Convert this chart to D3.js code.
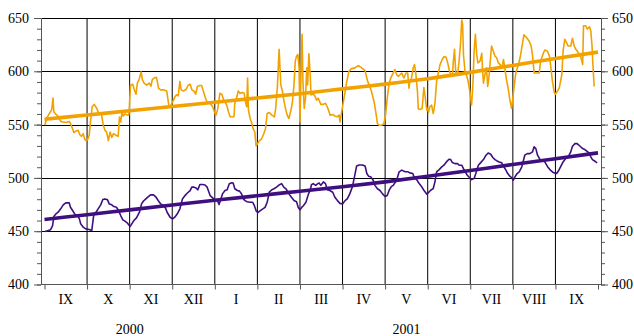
<!DOCTYPE html>
<html>
<head>
<meta charset="utf-8">
<script src="https://cdn.jsdelivr.net/npm/d3@7"></script>
<style>
  html, body { margin: 0; padding: 0; background: #fff; }
  svg { display: block; }
  text { font-family: "Liberation Serif", "Times New Roman", serif; font-size: 14px; fill: #000; }
</style>
</head>
<body>
<svg id="chart" width="634" height="336"></svg>
<script>
// Month labels (Sep 2000 .. Sep 2001) and year captions
const months = ["IX", "X", "XI", "XII", "I", "II", "III", "IV", "V", "VI", "VII", "VIII", "IX"];
const years = [{ label: "2000", from: 0, to: 4 }, { label: "2001", from: 4, to: 13 }];
const yMajor = [400, 450, 500, 550, 600, 650];

// Position is expressed in months since 1 Sep 2000 (each month has equal width)
const upperSeries = [
  [0.01,549.5],[0.05,556],[0.11,560],[0.17,564],[0.20,575],[0.22,562],[0.27,559.5],[0.32,558],[0.38,553],[0.44,552.5],
  [0.52,552],[0.58,553],[0.61,551],[0.66,546],[0.69,542.4],[0.74,544],[0.79,544.6],[0.83,540.5],[0.87,539],[0.91,541.5],
  [0.94,536.7],[0.97,535],[1.01,535.7],[1.05,540],[1.08,552.5],[1.12,566.8],[1.17,569],[1.23,565],[1.26,562],[1.30,560],
  [1.34,559],[1.38,549.4],[1.42,544.6],[1.46,543],[1.50,535],[1.54,543],[1.58,538],[1.62,541.5],[1.68,540],[1.73,539],
  [1.76,557],[1.79,552.5],[1.82,562],[1.85,558],[1.89,560],[1.95,558.9],[1.98,558.9],[1.99,565],[2.02,586.7],[2.07,588],
  [2.11,582.6],[2.15,578.5],[2.18,589],[2.22,592],[2.27,599.4],[2.30,592],[2.34,589],[2.40,587],[2.46,589],[2.50,586],
  [2.53,592],[2.57,593.7],[2.63,594.3],[2.68,584],[2.73,582.6],[2.79,582.6],[2.87,581.6],[2.92,568],[2.95,566.8],[2.99,570],
  [3.03,573],[3.06,576],[3.10,578],[3.14,577],[3.18,590.5],[3.21,582.6],[3.26,581.6],[3.32,582.6],[3.37,586.7],[3.42,588],
  [3.46,582.6],[3.51,581.6],[3.55,578.5],[3.59,585.8],[3.64,586.7],[3.69,586.7],[3.73,581.6],[3.78,575],[3.82,571],[3.89,570],
  [3.95,566.8],[3.99,562],[4.03,559],[4.07,565],[4.12,579.4],[4.17,578],[4.22,571.5],
  [4.24,570.9],[4.28,568.4],[4.32,562],[4.36,557.3],[4.40,557.3],[4.45,557.3],[4.47,570],[4.51,574.7],[4.55,581.6],[4.59,579.4],
  [4.65,580],[4.69,579.4],[4.72,571.5],[4.75,566.8],[4.77,593.7],[4.79,563.6],[4.83,555.7],[4.87,551],[4.90,546.2],[4.94,543],
  [4.97,530],[5.00,532],[5.05,535],[5.10,536.7],[5.15,541.4],[5.19,546.2],[5.23,560.4],[5.28,561.4],[5.34,558.9],[5.40,557.3],
  [5.43,565.2],[5.47,585.8],[5.51,620.6],[5.55,587.3],[5.59,581],[5.62,573],[5.66,565.2],[5.70,558.9],[5.74,555.7],[5.78,562],
  [5.82,570],[5.86,587.3],[5.89,609.5],[5.92,614.2],[5.95,615.8],[5.98,603.2],[6.00,552.5],[6.02,590.5],[6.05,634.8],[6.07,590.5],
  [6.10,565.2],[6.13,574.7],[6.16,603.2],[6.18,587.3],[6.21,616.5],[6.24,596.8],[6.26,577.8],[6.29,578.5],[6.34,577.8],[6.39,573],
  [6.43,574.7],[6.49,569],[6.55,569],[6.60,570],[6.65,565.8],[6.71,558.9],[6.78,559.5],[6.82,558],[6.88,557.3],[6.92,558.9],
  [6.94,552.5],[6.96,557.3],[6.98,562],[7.02,571.5],[7.06,581],[7.10,590.5],[7.15,600],[7.21,602.5],[7.29,603.2],[7.37,605.4],
  [7.45,603.2],[7.53,600.6],[7.59,590.5],[7.64,585.8],[7.68,581],[7.74,571.5],[7.78,562],[7.82,551],[7.86,549.4],[7.92,549.4],
  [7.97,551],[8.01,558.9],[8.05,574.7],[8.09,587.3],[8.13,593.7],[8.18,597.5],[8.23,601.6],[8.27,596.8],[8.31,595.3],[8.35,596.8],
  [8.39,598.4],[8.44,593.7],[8.49,598.4],[8.53,598.4],[8.56,584.2],
  [8.58,590.5],[8.62,593.7],[8.66,603.2],[8.69,606.3],[8.72,598.4],[8.76,581],[8.78,564.6],[8.82,564.2],[8.87,565.2],[8.91,584.8],
  [8.94,576.3],[8.98,563.6],[9.00,565.2],[9.02,561.4],[9.05,566.8],[9.09,568.4],[9.13,560.4],[9.17,570],[9.21,590.5],[9.25,598.4],
  [9.29,606.3],[9.34,611.1],[9.38,613.6],[9.43,613.3],[9.47,607.9],[9.51,600.6],[9.54,596.8],[9.58,595.3],[9.60,607.9],[9.63,620.6],
  [9.66,598.4],[9.70,596.8],[9.73,606.3],[9.77,625.3],[9.80,648.1],[9.82,644.3],[9.84,615.8],[9.88,598.4],[9.91,596.8],[9.95,590.5],
  [9.99,581],[10.03,568.4],[10.06,585.8],[10.09,619],[10.12,634.8],[10.15,615.8],[10.18,607.9],[10.23,609.5],[10.27,616.8],[10.29,600],
  [10.31,588.9],[10.35,598.4],[10.38,603.2],[10.41,585.8],[10.44,595.3],[10.48,614.2],[10.50,623.7],[10.54,619],[10.58,614.2],[10.62,612.7],
  [10.66,607.9],[10.70,606.3],[10.74,603.2],[10.78,611.1],[10.81,603.2],[10.85,592.1],[10.89,584.2],[10.93,573.1],[10.97,565.2],[10.99,571.5],
  [11.03,585.8],[11.07,598.4],[11.13,606.3],[11.17,612.7],[11.21,622.2],[11.26,634.2],[11.32,631.7],[11.38,628.5],[11.43,623.7],[11.46,615.8],
  [11.50,598.4],[11.56,598.4],[11.62,598.4],[11.65,609.5],[11.68,612.7],[11.72,617.4],[11.75,619.9],[11.81,619],[11.86,614.2],[11.89,604.7],
  [11.93,590.5],[11.97,580.4],[12.00,578.5],[12.04,581],[12.09,584.2],[12.15,596.8],[12.18,619],[12.22,630.1],[12.26,626.9],[12.30,623.7],
  [12.36,623.7],[12.40,631],[12.44,623.7],[12.48,620.6],[12.54,617.4],[12.59,614.2],[12.64,606.3],[12.66,642.7],[12.71,642.7],[12.75,639.6],
  [12.80,641.8],[12.83,638],[12.86,623.7],[12.88,606.3],[12.91,585.8]
];

const lowerSeries = [
  [0.01,449.7],[0.09,450.6],[0.14,451.3],[0.19,455.3],[0.22,463.8],[0.27,466.3],[0.32,467.8],[0.38,471],[0.44,474.7],[0.50,476.6],
  [0.54,476.6],[0.58,476.6],[0.61,472.5],[0.66,469.4],[0.72,465.6],[0.77,465.3],[0.82,461.6],[0.85,456.9],[0.91,453.8],[0.97,452.2],
  [1.05,451.6],[1.11,450.6],[1.13,456.9],[1.16,466.3],[1.21,467.8],[1.26,471],[1.32,474.7],[1.37,479.7],[1.42,480.3],[1.48,479.4],
  [1.52,475.6],[1.58,474.7],[1.63,473.1],[1.69,472.5],[1.73,470],[1.79,464.7],[1.84,460.6],[1.89,459.4],[1.95,457.5],[2.01,454.4],
  [2.05,456.9],[2.10,460],[2.16,462.5],[2.23,467.8],[2.28,475.6],[2.32,478.1],[2.38,480.3],[2.44,482.5],[2.49,484.1],[2.56,484.1],
  [2.62,481.9],[2.67,478.8],[2.73,475.6],[2.79,474.1],[2.84,471.9],[2.88,467.8],[2.95,463.1],[3.01,461.6],[3.06,463.1],[3.12,466.3],
  [3.18,471],[3.24,480.3],[3.30,483.4],[3.35,485.6],[3.42,488.1],[3.46,491.3],[3.51,491.3],[3.56,490.6],[3.60,488.8],[3.65,493.8],
  [3.71,493.8],[3.77,493.4],[3.82,491.3],[3.89,483.4],[3.95,481.3],[4.00,479.4],[4.06,478.8],[4.10,475],
  [4.18,485],[4.24,488.2],[4.29,488.9],[4.34,494.6],[4.40,495.5],[4.43,495.2],[4.47,489.8],[4.53,488.2],[4.58,487.6],[4.63,485],
  [4.67,480.3],[4.71,478.7],[4.76,477.7],[4.83,477.1],[4.89,477.1],[4.93,473.9],[4.97,469.1],[5.01,467.5],[5.06,469.1],[5.12,470.7],
  [5.18,472.3],[5.23,477.1],[5.28,486.6],[5.34,488.9],[5.39,489.8],[5.45,491.4],[5.52,493.6],[5.57,494.6],[5.62,491.4],[5.67,489.8],
  [5.73,485.7],[5.77,483.4],[5.80,481.8],[5.86,478.7],[5.92,477.7],[5.96,472.3],[6.00,470.1],[6.04,472.3],[6.08,473.9],[6.14,477.1],
  [6.20,485],[6.24,488.2],[6.27,493.6],[6.31,494.6],[6.37,493],[6.42,494.6],[6.45,495.2],[6.49,493],[6.55,496.2],[6.60,494.6],
  [6.64,488.9],[6.70,488.2],[6.77,486.6],[6.82,481.8],[6.88,478.7],[6.94,476.1],[7.00,475.5],[7.06,478.7],[7.11,480.3],[7.17,485],
  [7.23,491.4],[7.28,501],[7.33,511.1],[7.39,512.1],[7.47,512.1],[7.53,511.1],[7.57,504.1],[7.61,501.6],[7.66,501],[7.72,497.8],
  [7.76,493],[7.82,489.8],[7.88,488.2],[7.94,485],[8.00,482.5],[8.05,483.4],[8.10,488.9],[8.15,492],[8.19,493],[8.27,497.8],
  [8.33,505.7],[8.39,507.3],[8.47,505.7],[8.54,505.7],
  [8.58,504.7],[8.65,504.1],[8.68,500.9],[8.74,498.4],[8.80,494.7],[8.86,491.6],[8.91,488.4],[8.98,484.7],[9.01,485.9],[9.07,488.4],
  [9.13,490],[9.17,496.3],[9.21,505.6],[9.27,507.8],[9.33,510.3],[9.38,511.9],[9.44,515],[9.50,517.5],[9.54,517.2],[9.58,514.4],
  [9.64,513.4],[9.70,513.4],[9.74,511.9],[9.80,511.9],[9.84,508.8],[9.88,505.6],[9.93,502.5],[9.98,500.3],[10.03,498.4],[10.09,499.4],
  [10.13,504.1],[10.19,511.9],[10.24,514.1],[10.31,517.2],[10.37,521.3],[10.42,523.4],[10.48,522.2],[10.53,519.1],[10.58,517.2],[10.63,515.9],
  [10.68,515],[10.74,514.1],[10.78,510.9],[10.83,507.8],[10.88,504.1],[10.93,501.6],[10.97,500.3],[11.01,497.8],[11.05,500.9],[11.10,504.1],
  [11.15,505.6],[11.21,510.3],[11.25,516.6],[11.28,521.3],[11.34,522.8],[11.40,522.8],[11.46,524.4],[11.50,529.1],[11.54,527.5],[11.58,521.3],
  [11.64,517.2],[11.69,516.6],[11.75,515],[11.82,510.3],[11.87,507.8],[11.93,505.6],[11.97,504.7],[12.03,504.1],[12.08,507.2],[12.12,510.3],
  [12.18,515],[12.24,518.1],[12.30,519.7],[12.36,524.4],[12.40,529.7],[12.46,532.2],[12.51,532.2],[12.58,529.7],[12.64,527.5],[12.69,526.6],
  [12.73,525.3],[12.79,523.4],[12.83,519.7],[12.87,517.2],[12.93,515.6],[12.98,514.1]
];

// Trend curves sampled at month boundaries
const upperTrend = [[0,555],[1,559],[2,563],[3,567],[4,571],[5,575],[6,579],[7,583.5],[8,588],[9,593],[10,599],[11,605.5],[12,612],[13,618]];
const lowerTrend = [[0,461],[1,465.5],[2,470],[3,474.5],[4,479],[5,483.3],[6,487.5],[7,491.7],[8,496.3],[9,501.5],[10,507],[11,512.6],[12,518],[13,523.5]];

const upperColor = "#f2a200";
const lowerColor = "#3f0f80";

const svg = d3.select("#chart");
const left = 41.5, right = 601.5;

const x = d3.scaleLinear().domain([0, 13]).range([44.5, 598]);
const y = d3.scaleLinear().domain([400, 650]).range([284.5, 18]);

// Grid
const grid = svg.append("g");
grid.selectAll("line.h").data(yMajor.filter(v => v > 400)).join("line")
  .attr("x1", left).attr("x2", right)
  .attr("y1", d => Math.round(y(d)) + 0.5).attr("y2", d => Math.round(y(d)) + 0.5)
  .attr("stroke", "#000").attr("stroke-width", 1);
grid.selectAll("line.v").data(d3.range(1, 13)).join("line")
  .attr("x1", d => x(d)).attr("x2", d => x(d))
  .attr("y1", y(650)).attr("y2", y(400))
  .attr("stroke", "#000").attr("stroke-width", 1);

// Series
const line = d3.line().x(d => x(d[0])).y(d => y(d[1]));
svg.append("path").datum(upperSeries).attr("d", line)
  .attr("fill", "none").attr("stroke", upperColor).attr("stroke-width", 1.6).attr("stroke-linejoin", "round");
svg.append("path").datum(lowerSeries).attr("d", line)
  .attr("fill", "none").attr("stroke", lowerColor).attr("stroke-width", 1.6).attr("stroke-linejoin", "round");

// Trends
const trendLine = d3.line().x(d => x(d[0])).y(d => y(d[1])).curve(d3.curveMonotoneX);
svg.append("path").datum(upperTrend).attr("d", trendLine)
  .attr("fill", "none").attr("stroke", upperColor).attr("stroke-width", 3.6);
svg.append("path").datum(lowerTrend).attr("d", trendLine)
  .attr("fill", "none").attr("stroke", lowerColor).attr("stroke-width", 3.6);

// Axes
const axisColor = "#555";
function styleAxis(g) {
  g.selectAll("path.domain").attr("stroke", axisColor);
  g.selectAll(".tick line").attr("stroke", axisColor);
  g.selectAll(".tick text").style("font-family", "'Liberation Serif', serif").style("font-size", "14px").attr("fill", "#000");
}
const minorVals = d3.range(400, 651, 10);

svg.append("g").attr("transform", `translate(${left - 0.5},0)`)
  .call(d3.axisLeft(y).tickValues(minorVals).tickSize(4).tickSizeOuter(0).tickFormat(""))
  .call(styleAxis);
svg.append("g").attr("transform", `translate(${left - 0.5},0)`)
  .call(d3.axisLeft(y).tickValues(yMajor).tickSize(7).tickSizeOuter(0).tickPadding(5))
  .call(styleAxis)
  .call(g => g.select("path.domain").remove());

svg.append("g").attr("transform", `translate(${right - 0.5},0)`)
  .call(d3.axisRight(y).tickValues(minorVals).tickSize(4).tickSizeOuter(0).tickFormat(""))
  .call(styleAxis);
svg.append("g").attr("transform", `translate(${right - 0.5},0)`)
  .call(d3.axisRight(y).tickValues(yMajor).tickSize(7).tickSizeOuter(0).tickPadding(4))
  .call(styleAxis)
  .call(g => g.select("path.domain").remove());

// Bottom axis: baseline spans the whole frame, ticks at month boundaries
svg.append("line").attr("x1", left).attr("x2", right)
  .attr("y1", y(400)).attr("y2", y(400)).attr("stroke", axisColor);
svg.append("g").attr("transform", `translate(0,${y(400)})`)
  .call(d3.axisBottom(x).tickValues(d3.range(0, 14)).tickSize(5).tickFormat(""))
  .call(styleAxis)
  .call(g => g.select("path.domain").remove());

svg.append("g").selectAll("text").data(months).join("text")
  .attr("x", (d, i) => x(i + 0.5)).attr("y", 304)
  .attr("text-anchor", "middle").text(d => d);

svg.append("g").selectAll("text").data(years).join("text")
  .attr("x", d => x((d.from + d.to) / 2)).attr("y", 334)
  .attr("text-anchor", "middle").text(d => d.label);
</script>
</body>
</html>
